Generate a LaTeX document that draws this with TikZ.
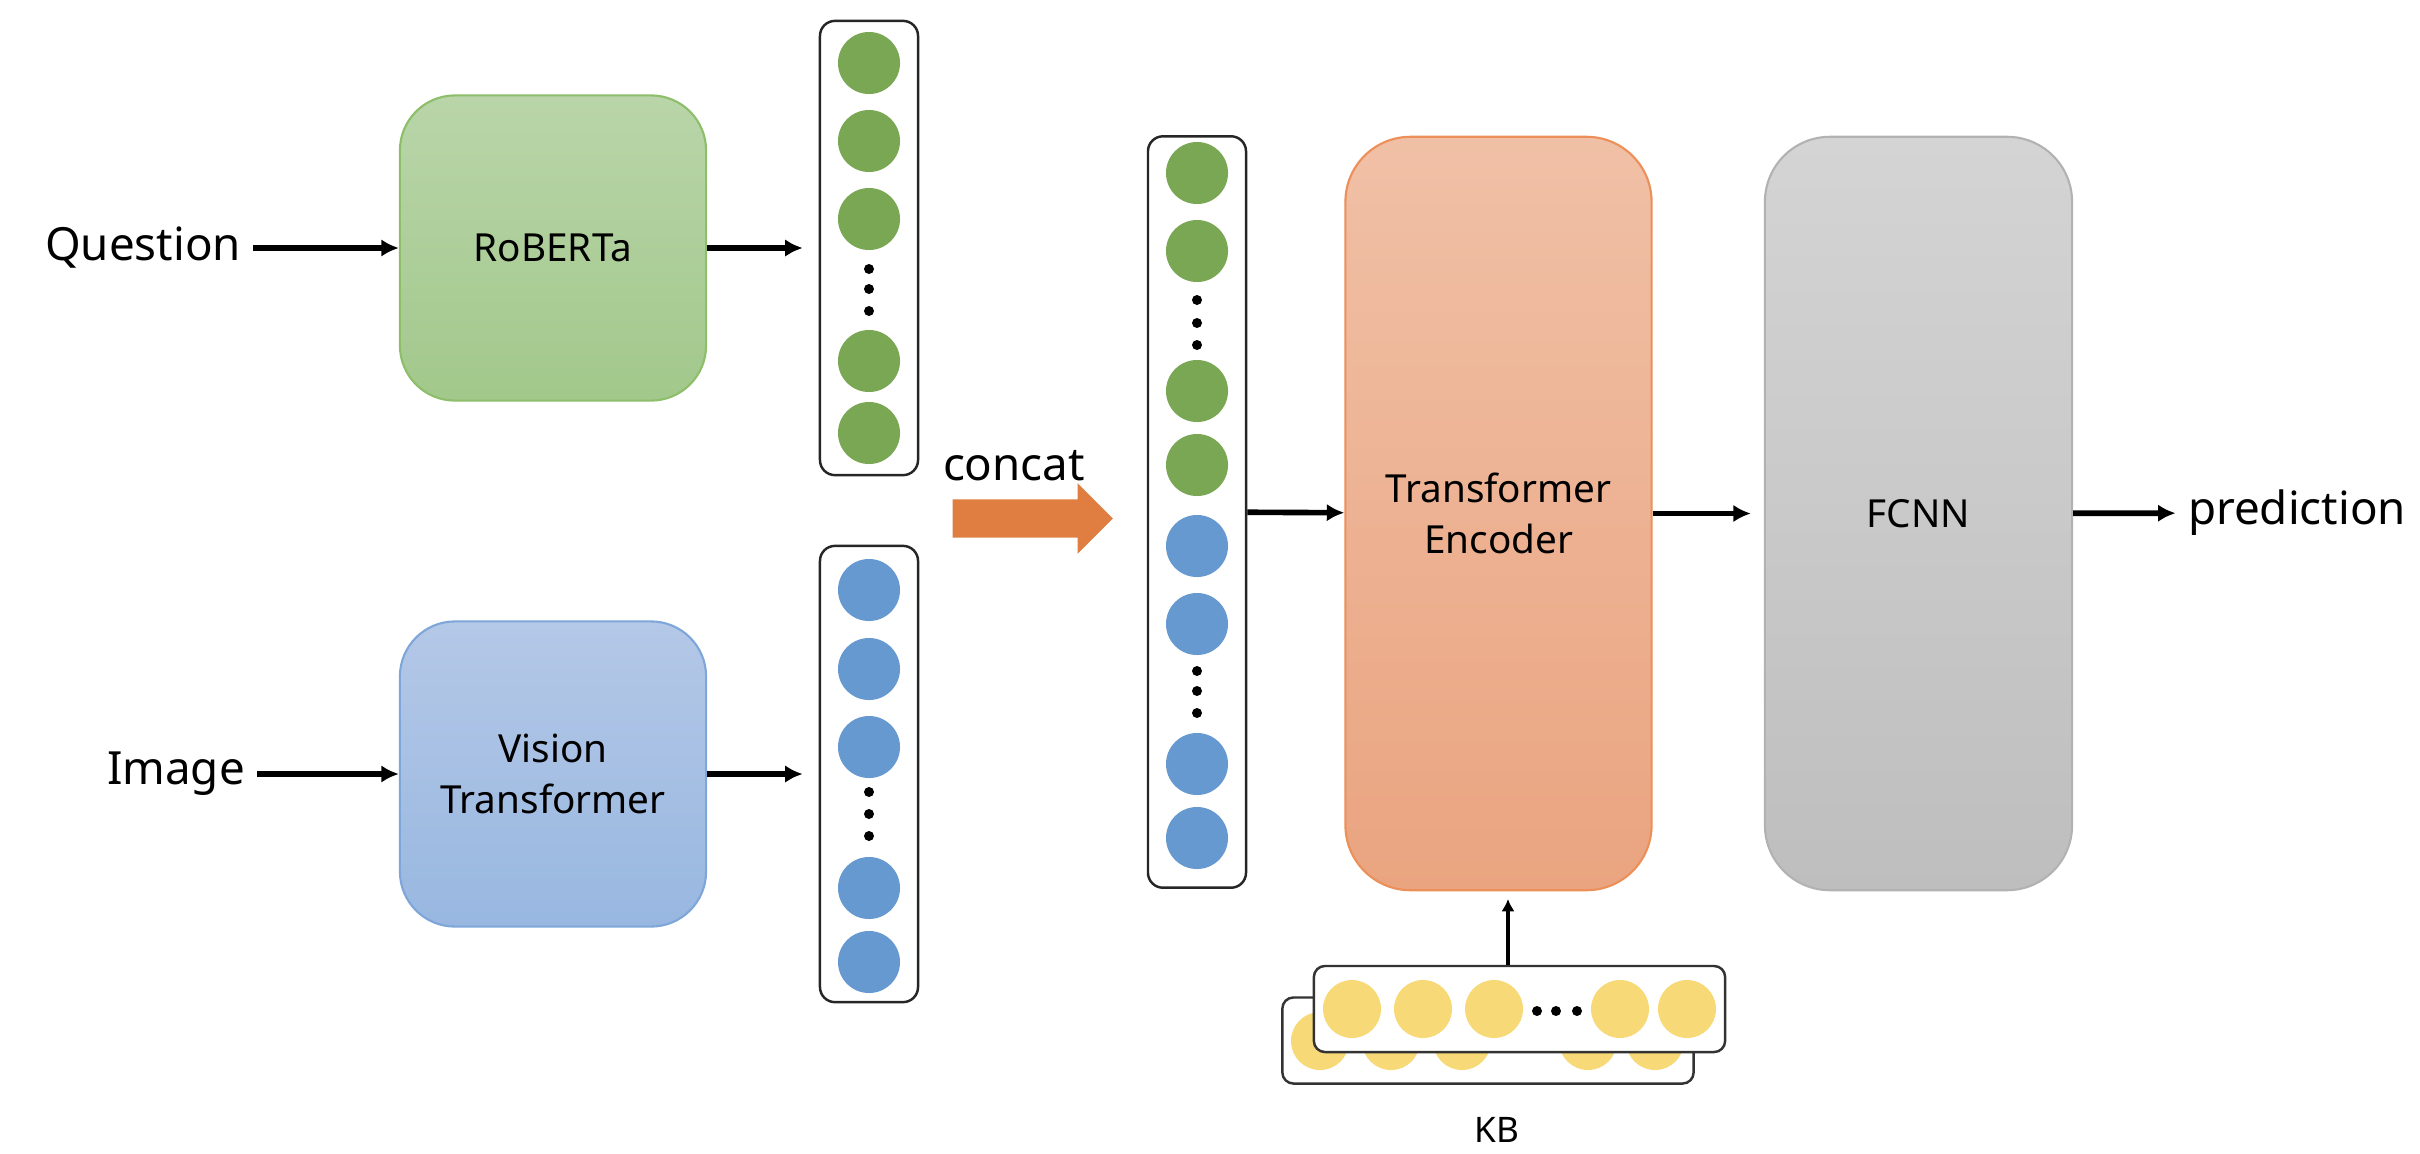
\documentclass[tikz,border=0pt]{standalone}
\usepackage{fontspec}
\setmainfont{Noto Sans}
\usetikzlibrary{arrows.meta,shapes.arrows}
\definecolor{qgreen}{HTML}{7AA753}
\definecolor{iblue}{HTML}{6699CF}
\definecolor{kbyellow}{HTML}{F8D978}
\definecolor{catorange}{HTML}{E07E41}
\tikzset{
  lbl/.style={font=\fontsize{13}{15}\selectfont},
  blk/.style={rounded corners=0.55cm, minimum width=3.06cm, minimum height=3.05cm, align=center, font=\fontsize{11}{14.5}\selectfont, line width=0.6pt},
  tall/.style={blk, minimum height=7.53cm, rounded corners=0.65cm},
  vecbox/.style={draw=black!85, line width=0.7pt, rounded corners=0.15cm, fill=white, minimum width=0.98cm, inner sep=0pt},
  kbbox/.style={draw=black!80, line width=0.7pt, rounded corners=0.11cm, fill=white, minimum width=4.11cm, minimum height=0.86cm, inner sep=0pt},
  tok/.style={circle, inner sep=0pt, minimum size=0.62cm},
  gtok/.style={tok, fill=qgreen}, btok/.style={tok, fill=iblue},
  ytok/.style={circle, inner sep=0pt, minimum size=0.58cm, fill=kbyellow},
  ell/.style={circle, fill=black, inner sep=0pt, minimum size=0.1cm},
  arr/.style={->, line width=1.6pt},
}
\begin{document}
\begin{tikzpicture}[x=0.01cm, y=-0.01cm, >={Latex[length=5pt,width=5pt]}]
\useasboundingbox (0,0) rectangle (2420,1154);
% inputs and encoders
\node[lbl] (q) at (143,248) {Question}; \node[lbl] (img) at (176,774) {Image};
\node[blk, draw={rgb,255:red,141;green,190;blue,106}, top color={rgb,255:red,185;green,213;blue,169}, bottom color={rgb,255:red,162;green,200;blue,139}] (rob) at (553,248) {RoBERTa};
\node[blk, draw={rgb,255:red,126;green,166;blue,216}, top color={rgb,255:red,180;green,200;blue,231}, bottom color={rgb,255:red,152;green,183;blue,224}] (vit) at (553,774) {Vision\\Transformer};

% question vector
\node[vecbox, minimum height=4.54cm] (vecq) at (869,248) {};
\node[gtok] (q1) at (869,63) {}; \node[gtok] (q2) at (869,141) {}; \node[gtok] (q3) at (869,219) {};
\node[ell] at (869,269) {}; \node[ell] at (869,289) {}; \node[ell] at (869,311) {};
\node[gtok] (q4) at (869,361) {}; \node[gtok] (q5) at (869,433) {};

% image vector
\node[vecbox, minimum height=4.56cm] (veci) at (869,774) {};
\node[btok] (i1) at (869,590) {}; \node[btok] (i2) at (869,669) {}; \node[btok] (i3) at (869,747) {};
\node[ell] at (869,792) {}; \node[ell] at (869,814) {}; \node[ell] at (869,836) {};
\node[btok] (i4) at (869,888) {}; \node[btok] (i5) at (869,962) {};

% concat
\node[lbl, anchor=base] (cattext) at (1014,480) {concat};
\node[single arrow, fill=catorange, anchor=tail, inner xsep=0pt, inner ysep=0.185cm, minimum height=1.6cm, single arrow head extend=0.16cm, single arrow tip angle=90] (cat) at (952,518.5) {};

% joint vector
\node[vecbox, minimum height=7.51cm] (vecc) at (1197,512) {};
\node[gtok] (c1) at (1197,173) {}; \node[gtok] (c2) at (1197,251) {};
\node[ell] at (1197,300) {}; \node[ell] at (1197,323) {}; \node[ell] at (1197,345) {};
\node[gtok] (c3) at (1197,391) {}; \node[gtok] (c4) at (1197,465) {};
\node[btok] (c5) at (1197,546) {}; \node[btok] (c6) at (1197,624) {};
\node[ell] at (1197,671) {}; \node[ell] at (1197,691) {}; \node[ell] at (1197,713) {};
\node[btok] (c7) at (1197,764) {}; \node[btok] (c8) at (1197,838) {};

% encoder, head, output
\node[tall, draw={rgb,255:red,236;green,143;blue,88}, top color={rgb,255:red,240;green,192;blue,166}, bottom color={rgb,255:red,234;green,164;blue,128}] (enc) at (1498.5,513.5) {Transformer\\Encoder};
\node[tall, minimum width=3.07cm, draw={rgb,255:red,178;green,178;blue,178}, top color={rgb,255:red,212;green,212;blue,212}, bottom color={rgb,255:red,190;green,190;blue,190}] (fcnn) at (1918.5,513.5) {FCNN};
\node[lbl] (pred) at (2297,513) {prediction};

% knowledge base
\node[kbbox] (kbback) at (1488,1040.5) {};
\node[ytok] at (1320,1041) {}; \node[ytok] at (1391,1041) {}; \node[ytok] at (1462,1041) {}; \node[ytok] at (1588,1041) {}; \node[ytok] at (1655,1041) {};
\node[kbbox] (kbfront) at (1519.5,1009) {};
\node[ytok] (k1) at (1352,1009) {}; \node[ytok] (k2) at (1423,1009) {}; \node[ytok] (k3) at (1494,1009) {};
\node[ell] at (1537,1011) {}; \node[ell] at (1556,1011) {}; \node[ell] at (1577,1011) {};
\node[ytok] (k4) at (1620,1009) {}; \node[ytok] (k5) at (1687,1009) {};
\node[font=\fontsize{10}{12}\selectfont] (kb) at (1497,1130) {KB};
\coordinate (kbin) at (1508,890);

\draw[arr] (q) to (rob); \draw[arr] (img) to (vit);
\draw[arr, shorten >=0.16cm] (rob) to (vecq); \draw[arr, shorten >=0.16cm] (vit) to (veci);
\draw[arr] (vecc) to (enc); \draw[arr, shorten >=0.13cm] (enc) to (fcnn); \draw[arr] (fcnn) to (pred);
\draw[->, line width=0.9pt, >={Latex[length=3.5pt,width=3.8pt]}, shorten >=0.09cm] (kbfront.north -| kbin) to (kbin);
\end{tikzpicture}
\end{document}
